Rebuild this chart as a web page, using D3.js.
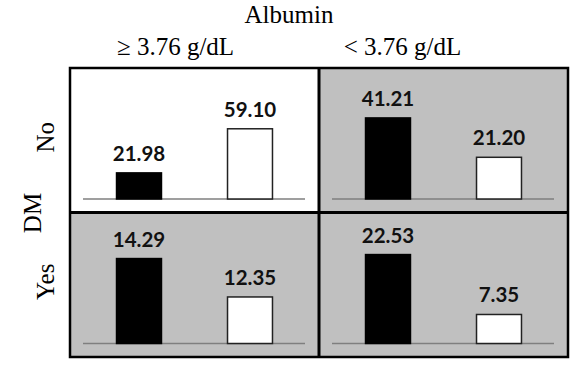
<!DOCTYPE html>
<html>
<head>
<meta charset="utf-8">
<script src="https://cdn.jsdelivr.net/npm/d3@7"></script>
<style>
  html, body { margin: 0; padding: 0; background: #fff; }
  svg { display: block; }
</style>
</head>
<body>
<svg id="chart" width="574" height="367"></svg>
<script>
// ---- data ----
const albuminCats = ["\u2265 3.76 g/dL", "< 3.76 g/dL"];
const dmCats = ["No", "Yes"];
const series = ["black", "white"];
// values[row][col] = [black, white]
const valuesNo  = [[21.98, 59.10], [41.21, 21.20]];
const valuesYes = [[14.29, 12.35], [22.53, 7.35]];
// per-panel value domains (as in the original figure, each panel has its own scale)
const domainsNo  = [[0, 101], [0, 61]];
const domainsYes = [[10, 16.06], [0, 30.4]];
const panelShaded = [[false, true], [true, true]];

const values = [valuesNo, valuesYes];
const domains = [domainsNo, domainsYes];

// ---- layout ----
const svg = d3.select("#chart");
const col = d3.scaleBand().domain(albuminCats).range([70, 568]);
const row = d3.scaleBand().domain(dmCats).range([68, 357]);
const pw = col.bandwidth(), ph = row.bandwidth();
const baseOff = 131;
const inner = d3.scaleBand().domain(series).range([14, 235]).paddingInner(0.595).paddingOuter(0.293);

const serif = "'Liberation Serif', 'Times New Roman', serif";
const sans = "Lato, 'Open Sans', sans-serif";

// panels
dmCats.forEach((r, ri) => {
  albuminCats.forEach((c, ci) => {
    const g = svg.append("g").attr("transform", `translate(${col(c)},${row(r)})`);
    g.append("rect").attr("width", pw).attr("height", ph)
      .attr("fill", panelShaded[ri][ci] ? "#c0c0c0" : "#ffffff");
    const y = d3.scaleLinear().domain(domains[ri][ci]).range([baseOff, baseOff - 120]);
    // baseline
    g.append("line").attr("x1", 13).attr("x2", 235).attr("y1", baseOff).attr("y2", baseOff)
      .attr("stroke", "#7f7f7f").attr("stroke-width", 1.5);
    const vals = values[ri][ci];
    series.forEach((s, si) => {
      const v = vals[si];
      g.append("rect")
        .attr("x", inner(s)).attr("width", inner.bandwidth())
        .attr("y", y(v)).attr("height", baseOff - y(v))
        .attr("fill", s === "black" ? "#000" : "#fff")
        .attr("stroke", s === "black" ? "#000" : "#222")
        .attr("stroke-width", 1.5);
      g.append("text")
        .attr("x", inner(s) + inner.bandwidth() / 2)
        .attr("y", y(v) - 12)
        .attr("text-anchor", "middle")
        .attr("font-family", sans).attr("font-weight", "bold").attr("font-size", 20.5)
        .attr("fill", "#111")
        .text(v.toFixed(2));
    });
  });
});

// grid borders
svg.append("rect").attr("x", 70).attr("y", 68).attr("width", 498).attr("height", 289)
  .attr("fill", "none").attr("stroke", "#000").attr("stroke-width", 2.5);
svg.append("line").attr("x1", col(albuminCats[1])).attr("x2", col(albuminCats[1]))
  .attr("y1", 68).attr("y2", 357).attr("stroke", "#000").attr("stroke-width", 3);
svg.append("line").attr("y1", row(dmCats[1])).attr("y2", row(dmCats[1]))
  .attr("x1", 70).attr("x2", 568).attr("stroke", "#000").attr("stroke-width", 3);

// headers
svg.append("text").attr("x", 289).attr("y", 23).attr("text-anchor", "middle")
  .attr("font-family", serif).attr("font-size", 25).text("Albumin");
const headerShift = [-19, -41];
albuminCats.forEach((c, i) => {
  svg.append("text").attr("x", col(c) + pw / 2 + headerShift[i]).attr("y", 55)
    .attr("text-anchor", "middle").attr("font-family", serif).attr("font-size", 25).text(c);
});
dmCats.forEach((r) => {
  const cy = row(r) + ph / 2 - 3;
  svg.append("text").attr("transform", `translate(54,${cy}) rotate(-90)`)
    .attr("text-anchor", "middle").attr("font-family", serif).attr("font-size", 25).text(r);
});
svg.append("text").attr("transform", `translate(41,213) rotate(-90)`)
  .attr("text-anchor", "middle").attr("font-family", serif).attr("font-size", 25).text("DM");
</script>
</body>
</html>
